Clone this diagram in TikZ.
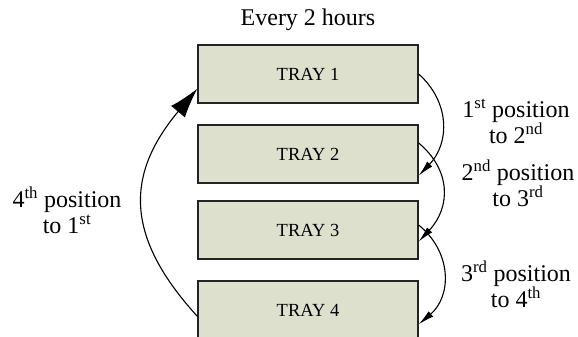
\documentclass[tikz,border=0pt]{standalone}
\usepackage{fontspec}
\setmainfont{Liberation Serif}
\usetikzlibrary{arrows.meta}
\definecolor{trayfill}{RGB}{221,224,204}
\definecolor{trayedge}{RGB}{35,35,35}
\begin{document}
\begin{tikzpicture}[x=1pt,y=-1pt,
  traybox/.style={draw=trayedge,line width=1.3pt,fill=trayfill,minimum width=220pt,minimum height=58pt,inner sep=0pt,font=\fontsize{18.5}{20}\selectfont},
  lbl/.style={align=center,font=\fontsize{24}{26}\selectfont,inner sep=0pt},
  mv/.style={line width=1.1pt,-{Latex[length=16pt,width=7pt]}},
  mvbig/.style={line width=1.1pt,-{Latex[length=30pt,width=18pt]}}]
\useasboundingbox (0,0) rectangle (578,337);
\node[traybox] (t1) at (308,74) {TRAY 1};
\node[traybox] (t2) at (308,154) {TRAY 2};
\node[traybox] (t3) at (308,230) {TRAY 3};
\node[traybox] (t4) at (308,310) {TRAY 4};
\node[font=\fontsize{24}{26}\selectfont,inner sep=0pt] (title) at (308,20) {Every 2 hours};
\node[lbl] (l1) at (516,121) {1\textsuperscript{st} position\\to 2\textsuperscript{nd}};
\node[lbl] (l2) at (518,183) {2\textsuperscript{nd} position\\to 3\textsuperscript{rd}};
\node[lbl] (l3) at (516,284) {3\textsuperscript{rd} position\\to 4\textsuperscript{th}};
\node[lbl] (l4) at (67,210) {4\textsuperscript{th} position\\to 1\textsuperscript{st}};
\draw[mv] (t1.east) .. controls (450,102) and (450,143) .. ([yshift=8pt]t2.south east);
\draw[mv] ([yshift=11pt]t2.east) .. controls (451,170) and (451,207) .. ([yshift=18pt]t3.south east);
\draw[mv] ([yshift=5pt]t3.east) .. controls (452,252) and (452,296) .. ([yshift=-44pt]t4.north east);
\draw[mvbig] ([yshift=-36pt]t4.north west) .. controls (125,237) and (125,175) .. ([yshift=15pt]t1.south west);
\end{tikzpicture}
\end{document}
